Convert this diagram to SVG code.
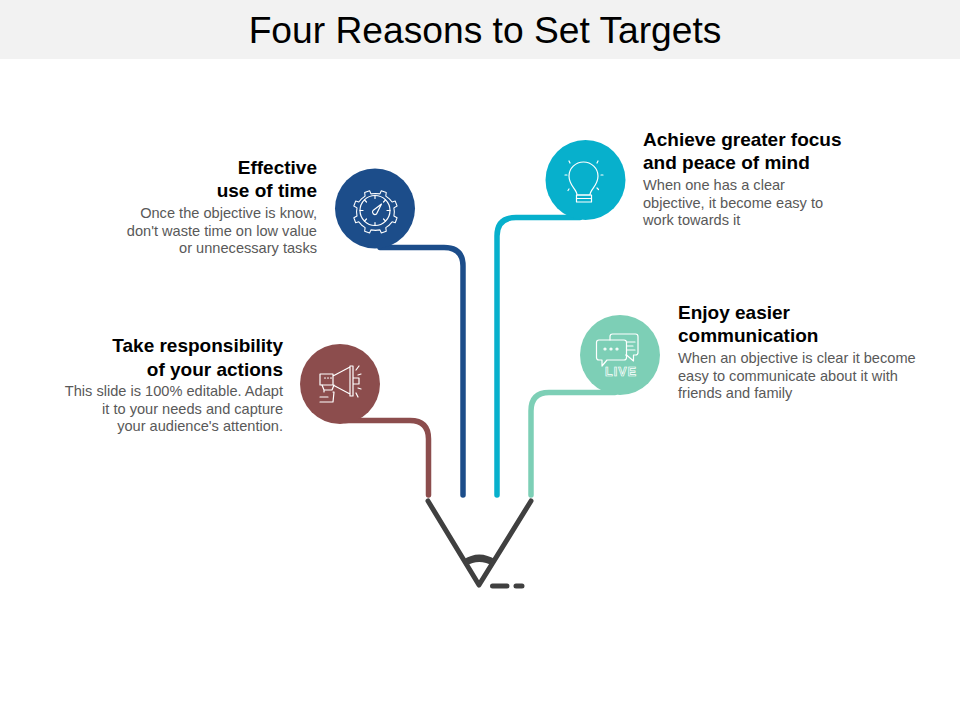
<svg xmlns="http://www.w3.org/2000/svg" width="960" height="720" viewBox="0 0 960 720">
<style>
text{font-family:"Liberation Sans",Arial,sans-serif}
.h{font-size:19px;font-weight:bold;fill:#000}
.b{font-size:14.6px;fill:#595959}
.e{text-anchor:end}
.c{fill:none;stroke-width:5.5;stroke-linecap:round}
.i{fill:none;stroke:#fff;stroke-width:1.2;stroke-linecap:round;stroke-linejoin:round}
.d{fill:none;stroke:#404040;stroke-width:5;stroke-linecap:round;stroke-linejoin:round}
</style>
<rect id="title-band" x="0" y="0" width="960" height="59" fill="#f2f2f2"/>
<text x="485" y="43" text-anchor="middle" style="font-size:37.200px" fill="#000">Four Reasons to Set Targets</text>
<g id="connectors">
<path class="c" stroke="#8c4d4d" d="M345 420.500H410Q428.500 420.500 428.500 439V495"/>
<path class="c" stroke="#1c4d8a" d="M380 247.500H444Q463 247.500 463 266V495"/>
<path class="c" stroke="#07b0cc" d="M580 217.500H516Q497 217.500 497 236V495"/>
<path class="c" stroke="#7dcfb6" d="M615 392.500H549Q531 392.500 531 411V495"/>
</g>
<g id="node-effective">
<circle cx="375" cy="208.500" r="40" fill="#1c4d8a"/>
<g class="i">
<path transform="translate(375 211) scale(.9) translate(-375 -211)" d="M369 188.500l1.500 3.500 5-.5 5 .5 1.500-3.500 5.500 2-.5 4 4 3 3 3.500 3.500-1 2 5.500-3.500 2 .5 4.500-.5 4.500 3.500 2-2 5.500-3.500-1-3 3.500-4 3 .5 4-5.500 2-1.500-3.500-5 .5-5-.5-1.500 3.500-5.500-2 .5-4-4-3-3-3.500-3.500 1-2-5.500 3.500-2-.5-4.500.5-4.500-3.500-2 2-5.500 3.500 1 3-3.500 4-3-.5-4z"/>
<circle cx="375" cy="210.500" r="15"/>
<path d="M375 195.500v3M375 222.500v3M360 210.500h3M387 210.500h3M364.500 200l2 2M385.500 200l-2 2M364.500 221l2-2M385.500 221l-2-2"/>
<path d="M381.500 204l-8.500 6.500a2.500 2.500 0 0 0 3.500 3.500z"/>
</g>
<text class="h e" x="317" y="174">Effective</text>
<text class="h e" x="317" y="197">use of time</text>
<text class="b e" x="317" y="218">Once the objective is know,</text>
<text class="b e" x="317" y="236">don't waste time on low value</text>
<text class="b e" x="317" y="253">or unnecessary tasks</text>
</g>
<g id="node-responsibility">
<circle cx="340" cy="384" r="40" fill="#8c4d4d"/>
<g class="i">
<path d="M320 374h13v11h-13zM333 376l17-9v27l-17-9M350 366h3v30h-3zM353 378h6v6h-6z"/>
<path d="M324.500 378h1M327.500 378h1M330.500 378h1M322 385l2 5h8l2-5M324 390v2M334 392l-1 10h-13M320 397h8M333 392h1"/>
<path d="M356 370l3-4M358 375l3-1M358 388l3 1M356 393l2 4"/>
</g>
<text class="h e" x="283" y="352">Take responsibility</text>
<text class="h e" x="283" y="376">of your actions</text>
<text class="b e" x="283" y="396">This slide is 100% editable. Adapt</text>
<text class="b e" x="283" y="414">it to your needs and capture</text>
<text class="b e" x="283" y="431">your audience's attention.</text>
</g>
<g id="node-focus">
<circle cx="585.500" cy="180" r="40" fill="#07b0cc"/>
<g class="i">
<path d="M577 195c0-6-8-9-8-19a14.500 14 0 0 1 29 0c0 10-8 13-8 19z"/>
<rect x="576.500" y="195" width="15" height="7"/><path d="M576.500 198.500h15"/>
<path d="M570 163l-1-2M597 163l1-2M565 175h2M601 175h2M569 189l-1 1.500M597 188l1.500 1.500"/>
</g>
<text class="h" x="643" y="146">Achieve greater focus</text>
<text class="h" x="643" y="169">and peace of mind</text>
<text class="b" x="643" y="190">When one has a clear</text>
<text class="b" x="643" y="208">objective, it become easy to</text>
<text class="b" x="643" y="225">work towards it</text>
</g>
<g id="node-communication">
<circle cx="620" cy="355" r="40" fill="#7dcfb6"/>
<g class="i">
<path d="M599 340h25a2.500 2.500 0 0 1 2.500 2.500v15a2.500 2.500 0 0 1-2.500 2.500h-17l-5 6v-6h-3a2.500 2.500 0 0 1-2.500-2.500v-15a2.500 2.500 0 0 1 2.500-2.500z"/>
<path d="M610 340v-3.500a2.500 2.500 0 0 1 2.500-2.500h23a2.500 2.500 0 0 1 2.500 2.500v16a2.500 2.500 0 0 1-2.500 2.500h-2v6l-7-6h-1M627 342h8M627 346h6M627 350h8"/>
<circle cx="605" cy="349" r="1"/><circle cx="611" cy="349" r="1"/><circle cx="617" cy="349" r="1"/>
</g>
<text x="605" y="376" textLength="31" lengthAdjust="spacing" style="font-size:12.500px;font-weight:bold" fill="none" stroke="#fff" stroke-width=".7">LIVE</text>
<text class="h" x="678" y="319">Enjoy easier</text>
<text class="h" x="678" y="342">communication</text>
<text class="b" x="678" y="363">When an objective is clear it become</text>
<text class="b" x="678" y="381">easy to communicate about it with</text>
<text class="b" x="678" y="398">friends and family</text>
</g>
<g id="compass">
<path class="d" d="M428 501L479 585L531 501"/>
<path d="M463 560Q479 549 496 560L493 566Q479 558 466 566z" fill="#404040"/>
<path class="d" d="M492.500 586H507M516 586H522"/>
</g>
</svg>
